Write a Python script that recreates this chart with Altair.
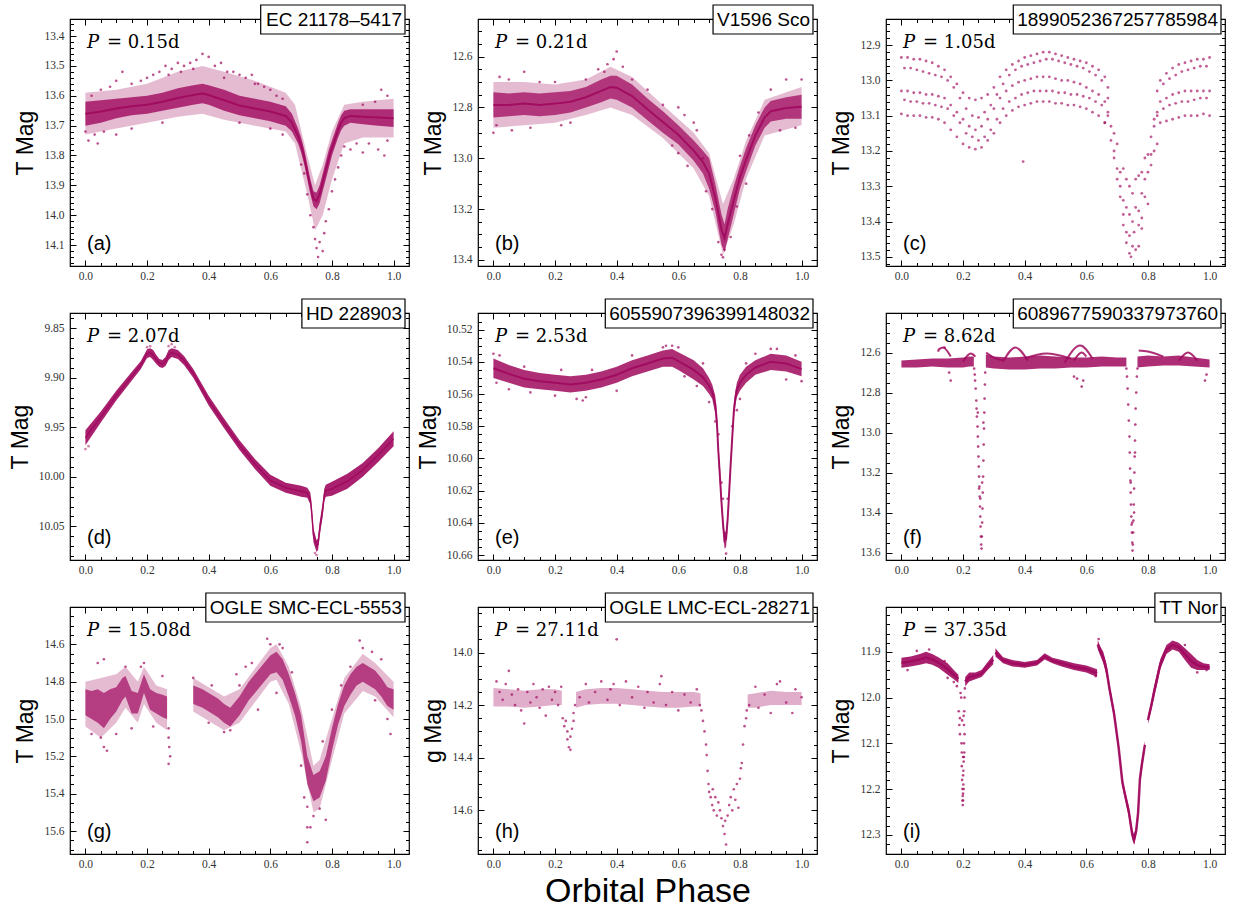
import altair as alt
import numpy as np
import pandas as pd

W, H = 339, 247
COLOR = "#A0095E"
SANS = "Liberation Sans"
SERIF = "Liberation Serif"
MATH = "DejaVu Serif"

X_DOMAIN = [-0.05, 1.05]
X_MAJOR = [0.0, 0.2, 0.4, 0.6, 0.8, 1.0]
X_MINOR_STEP = 0.05
X_TITLE = "Orbital Phase"

NAMES = ["EC 21178\u20135417", "V1596 Sco", "1899052367257785984", "HD 228903",
         "6055907396399148032", "6089677590337973760", "OGLE SMC-ECL-5553",
         "OGLE LMC-ECL-28271", "TT Nor"]
PERIODS = ["0.15", "0.21", "1.05", "2.07", "2.53", "8.62", "15.08", "27.11", "37.35"]
LETTERS = ["(a)", "(b)", "(c)", "(d)", "(e)", "(f)", "(g)", "(h)", "(i)"]
YTITLES = ["T Mag", "T Mag", "T Mag", "T Mag", "T Mag", "T Mag", "T Mag", "g Mag", "T Mag"]
Y_DOMAINS = [[13.343, 14.17], [12.452, 13.424], [12.826, 13.526], [9.8345, 10.084],
             [10.5097, 10.663], [12.402, 13.637], [14.40, 15.723], [13.827, 14.766],
             [11.802, 12.342]]
Y_MAJORS = [
    [13.4, 13.5, 13.6, 13.7, 13.8, 13.9, 14.0, 14.1],
    [12.6, 12.8, 13.0, 13.2, 13.4],
    [12.9, 13.0, 13.1, 13.2, 13.3, 13.4, 13.5],
    [9.85, 9.90, 9.95, 10.00, 10.05],
    [10.52, 10.54, 10.56, 10.58, 10.60, 10.62, 10.64, 10.66],
    [12.6, 12.8, 13.0, 13.2, 13.4, 13.6],
    [14.6, 14.8, 15.0, 15.2, 15.4, 15.6],
    [14.0, 14.2, 14.4, 14.6],
    [11.9, 12.0, 12.1, 12.2, 12.3],
]
Y_MINOR_STEPS = [0.02, 0.05, 0.02, 0.01, 0.005, 0.05, 0.05, 0.05, 0.02]
Y_FORMATS = [".1f", ".1f", ".1f", ".2f", ".2f", ".1f", ".1f", ".1f", ".1f"]

# ---------------- data ----------------
# bands: list of segments, each a list of (phase, upper mag, lower mag)
a_band = [[(0.0, 13.62, 13.70), (0.05, 13.615, 13.69), (0.1, 13.61, 13.675), (0.15, 13.605, 13.665),
           (0.2, 13.60, 13.66), (0.25, 13.59, 13.65), (0.3, 13.575, 13.64), (0.35, 13.565, 13.63),
           (0.38, 13.56, 13.625), (0.4, 13.565, 13.63), (0.45, 13.58, 13.65), (0.5, 13.60, 13.665),
           (0.55, 13.61, 13.675), (0.6, 13.62, 13.685), (0.65, 13.635, 13.70), (0.67, 13.66, 13.72),
           (0.69, 13.71, 13.76), (0.70, 13.74, 13.79), (0.71, 13.78, 13.83), (0.72, 13.83, 13.88),
           (0.73, 13.88, 13.93), (0.74, 13.92, 13.97), (0.75, 13.925, 13.98), (0.76, 13.90, 13.96),
           (0.77, 13.86, 13.92), (0.78, 13.82, 13.88), (0.79, 13.78, 13.84), (0.80, 13.75, 13.80),
           (0.81, 13.72, 13.77), (0.82, 13.69, 13.74), (0.83, 13.665, 13.715), (0.84, 13.65, 13.70),
           (0.86, 13.645, 13.69), (0.9, 13.645, 13.695), (0.95, 13.645, 13.70), (1.0, 13.645, 13.705)]]
a_halo = [[(0.0, 13.59, 13.73), (0.1, 13.58, 13.71), (0.2, 13.56, 13.69), (0.3, 13.52, 13.67),
           (0.38, 13.50, 13.66), (0.45, 13.52, 13.68), (0.55, 13.55, 13.70), (0.65, 13.59, 13.72),
           (0.68, 13.63, 13.76), (0.72, 13.80, 13.93), (0.745, 13.90, 14.05), (0.77, 13.83, 14.0),
           (0.8, 13.72, 13.88), (0.84, 13.63, 13.76), (0.9, 13.62, 13.74), (1.0, 13.61, 13.74)]]
a_pts = [(0.02, 13.60), (0.05, 13.58), (0.08, 13.57), (0.10, 13.55), (0.12, 13.52), (0.15, 13.56),
         (0.18, 13.55), (0.20, 13.54), (0.22, 13.53), (0.24, 13.52), (0.26, 13.50), (0.28, 13.51),
         (0.30, 13.49), (0.32, 13.50), (0.34, 13.49), (0.36, 13.48), (0.38, 13.46), (0.40, 13.47),
         (0.42, 13.50), (0.44, 13.49), (0.46, 13.52), (0.48, 13.52), (0.50, 13.53), (0.52, 13.54),
         (0.54, 13.53), (0.56, 13.56), (0.58, 13.57), (0.60, 13.58), (0.62, 13.60), (0.64, 13.61),
         (0.27, 13.53), (0.31, 13.52), (0.35, 13.51), (0.45, 13.54), (0.55, 13.56),
         (0.00, 13.72), (0.01, 13.75), (0.03, 13.73), (0.04, 13.76), (0.06, 13.72), (0.10, 13.73),
         (0.15, 13.71), (0.25, 13.69), (0.50, 13.69), (0.60, 13.71), (0.64, 13.73),
         (0.70, 13.83), (0.71, 13.86), (0.72, 13.93), (0.73, 14.00), (0.74, 14.04), (0.745, 14.08),
         (0.75, 14.11), (0.755, 14.14), (0.76, 14.09), (0.77, 14.12), (0.775, 14.06), (0.78, 14.02),
         (0.79, 13.98), (0.80, 13.92), (0.81, 13.88), (0.82, 13.84), (0.83, 13.80), (0.84, 13.77),
         (0.86, 13.78), (0.88, 13.76), (0.90, 13.79), (0.92, 13.76), (0.95, 13.78), (0.97, 13.80),
         (0.98, 13.75), (0.96, 13.58), (0.98, 13.60), (0.94, 13.62), (0.90, 13.63)]

b_band = [[(0.0, 12.74, 12.84), (0.05, 12.745, 12.835), (0.1, 12.74, 12.83), (0.15, 12.745, 12.835),
           (0.2, 12.74, 12.83), (0.25, 12.735, 12.82), (0.3, 12.72, 12.80), (0.35, 12.69, 12.78),
           (0.38, 12.675, 12.765), (0.4, 12.675, 12.77), (0.45, 12.71, 12.80), (0.5, 12.765, 12.85),
           (0.55, 12.815, 12.90), (0.6, 12.87, 12.945), (0.65, 12.93, 13.01), (0.68, 12.97, 13.06),
           (0.7, 13.0, 13.12), (0.72, 13.10, 13.21), (0.74, 13.22, 13.34), (0.75, 13.26, 13.37),
           (0.76, 13.20, 13.32), (0.78, 13.11, 13.22), (0.8, 13.03, 13.12), (0.82, 12.96, 13.05),
           (0.85, 12.87, 12.95), (0.88, 12.80, 12.88), (0.9, 12.775, 12.855), (0.95, 12.76, 12.845),
           (1.0, 12.75, 12.845)]]
b_halo = [[(0.0, 12.70, 12.88), (0.1, 12.70, 12.87), (0.2, 12.71, 12.86), (0.3, 12.69, 12.83),
           (0.38, 12.64, 12.80), (0.45, 12.68, 12.83), (0.55, 12.79, 12.92), (0.65, 12.90, 13.04),
           (0.7, 12.98, 13.15), (0.745, 13.18, 13.38), (0.78, 13.08, 13.26), (0.82, 12.93, 13.08),
           (0.88, 12.77, 12.91), (1.0, 12.72, 12.87)]]
b_pts = [(0.39, 12.61), (0.40, 12.58), (0.37, 12.63), (0.42, 12.64), (0.34, 12.65), (0.36, 12.66),
         (0.0, 12.90), (0.01, 12.87), (0.02, 12.68), (0.05, 12.69), (0.1, 12.66), (0.15, 12.70),
         (0.2, 12.70), (0.25, 12.86), (0.22, 12.87), (0.3, 12.69), (0.12, 12.88), (0.06, 12.89),
         (0.74, 13.38), (0.745, 13.39), (0.75, 13.36), (0.73, 13.33), (0.77, 13.31), (0.71, 13.20),
         (0.69, 13.13), (0.9, 12.73), (0.95, 12.69), (1.0, 12.69), (0.98, 12.88), (0.93, 12.89),
         (0.6, 12.80), (0.62, 12.83), (0.65, 12.86), (0.66, 12.89), (0.55, 12.79), (0.5, 12.73),
         (0.45, 12.69), (0.68, 13.0), (0.8, 12.99), (0.83, 12.91), (0.86, 12.82), (0.79, 13.19),
         (0.82, 13.1), (0.6, 12.98), (0.63, 13.03), (0.58, 12.95)]

# panel (c): five tracks of dots plus the eclipse
c_ph_a = [0.00, 0.02, 0.04, 0.06, 0.08, 0.10, 0.12, 0.14, 0.16, 0.18, 0.20, 0.22, 0.24, 0.26, 0.28,
          0.30, 0.32, 0.34, 0.36, 0.38, 0.40, 0.42, 0.44, 0.46, 0.48, 0.50, 0.52, 0.54, 0.56, 0.58,
          0.60, 0.62, 0.64, 0.66, 0.84, 0.86, 0.88, 0.90, 0.92, 0.94, 0.96, 0.98, 1.00]
c_ph_b = [0.01, 0.03, 0.05, 0.07, 0.09, 0.11, 0.13, 0.15, 0.17, 0.19, 0.21, 0.23, 0.25, 0.27, 0.29,
          0.31, 0.33, 0.35, 0.37, 0.39, 0.41, 0.43, 0.45, 0.47, 0.49, 0.51, 0.53, 0.55, 0.57, 0.59,
          0.61, 0.63, 0.65, 0.67, 0.83, 0.85, 0.87, 0.89, 0.91, 0.93, 0.95, 0.97, 0.99]
c_t1 = [12.935, 12.935, 12.94, 12.94, 12.945, 12.95, 12.96, 12.97, 12.99, 13.01,
        13.035, 13.05, 13.055, 13.05, 13.04, 13.02, 12.99, 12.97, 12.955, 12.945,
        12.935, 12.93, 12.925, 12.92, 12.92, 12.925, 12.93, 12.935, 12.94, 12.945,
        12.95, 12.96, 12.97, 12.99, 13.0, 12.98, 12.965, 12.955, 12.95, 12.945, 12.94, 12.94, 12.935]
c_t2 = [12.965, 12.965, 12.97, 12.975, 12.98, 12.985, 12.99, 13.0, 13.02, 13.05,
        13.08, 13.10, 13.105, 13.09, 13.07, 13.04, 13.01, 12.985, 12.97, 12.96,
        12.955, 12.95, 12.945, 12.94, 12.94, 12.945, 12.95, 12.955, 12.96, 12.965,
        12.975, 12.985, 13.0, 13.02, 13.03, 13.01, 12.995, 12.985, 12.975, 12.97, 12.965, 12.96, 12.96]
c_t3 = [13.03, 13.03, 13.035, 13.035, 13.04, 13.04, 13.045, 13.05, 13.07, 13.09,
        13.11, 13.13, 13.14, 13.13, 13.11, 13.08, 13.05, 13.03, 13.015, 13.005,
        13.0, 12.995, 12.99, 12.99, 12.99, 12.995, 13.0, 13.0, 13.005, 13.01,
        13.02, 13.03, 13.04, 13.06, 13.06, 13.05, 13.04, 13.035, 13.03, 13.03, 13.03, 13.03, 13.03]
c_t4 = [13.055, 13.06, 13.06, 13.065, 13.065, 13.07, 13.075, 13.08, 13.10, 13.12,
        13.15, 13.16, 13.17, 13.16, 13.14, 13.11, 13.08, 13.06, 13.05, 13.04,
        13.035, 13.03, 13.03, 13.03, 13.03, 13.035, 13.035, 13.04, 13.04, 13.045,
        13.05, 13.06, 13.07, 13.09, 13.09, 13.08, 13.07, 13.065, 13.06, 13.06, 13.055, 13.05, 13.05]
c_t5 = [13.095, 13.10, 13.10, 13.10, 13.105, 13.105, 13.11, 13.12, 13.14, 13.16,
        13.18, 13.19, 13.195, 13.19, 13.17, 13.15, 13.12, 13.10, 13.085, 13.075,
        13.07, 13.065, 13.06, 13.06, 13.06, 13.065, 13.065, 13.07, 13.07, 13.075,
        13.08, 13.09, 13.10, 13.12, 13.12, 13.115, 13.11, 13.105, 13.10, 13.10, 13.10, 13.095, 13.10]
c_ecl = [(0.66, 13.12), (0.67, 13.10), (0.67, 13.05), (0.68, 13.13), (0.68, 13.17), (0.69, 13.15),
         (0.69, 13.20), (0.69, 13.22), (0.70, 13.18), (0.70, 13.25), (0.70, 13.28), (0.71, 13.26),
         (0.71, 13.30), (0.71, 13.33), (0.72, 13.25), (0.72, 13.34), (0.72, 13.38), (0.72, 13.41),
         (0.73, 13.28), (0.73, 13.36), (0.73, 13.43), (0.73, 13.46), (0.74, 13.30), (0.74, 13.38),
         (0.74, 13.44), (0.74, 13.49), (0.745, 13.50), (0.75, 13.32), (0.75, 13.40), (0.75, 13.47),
         (0.755, 13.43), (0.76, 13.28), (0.76, 13.36), (0.76, 13.48), (0.77, 13.27), (0.77, 13.37),
         (0.77, 13.41), (0.77, 13.47), (0.78, 13.26), (0.78, 13.32), (0.78, 13.39), (0.78, 13.42),
         (0.79, 13.22), (0.79, 13.28), (0.79, 13.33), (0.80, 13.21), (0.80, 13.26), (0.80, 13.35),
         (0.81, 13.16), (0.81, 13.21), (0.81, 13.24), (0.82, 13.13), (0.82, 13.20), (0.82, 13.11),
         (0.83, 13.10), (0.83, 13.18), (0.395, 13.23)]

d_band = [[(0.0, 9.953, 9.968), (0.05, 9.934, 9.945), (0.1, 9.913, 9.923), (0.15, 9.894, 9.903),
           (0.18, 9.883, 9.891), (0.2, 9.871, 9.880), (0.21, 9.870, 9.879), (0.22, 9.872, 9.882),
           (0.23, 9.877, 9.886), (0.24, 9.881, 9.889), (0.25, 9.882, 9.890), (0.26, 9.879, 9.888),
           (0.27, 9.872, 9.882), (0.28, 9.870, 9.879), (0.3, 9.872, 9.881), (0.32, 9.878, 9.887),
           (0.35, 9.891, 9.900), (0.4, 9.918, 9.928), (0.45, 9.941, 9.951), (0.5, 9.963, 9.973),
           (0.55, 9.982, 9.992), (0.6, 9.998, 10.009), (0.65, 10.006, 10.016), (0.7, 10.009, 10.020),
           (0.72, 10.011, 10.021), (0.73, 10.016, 10.028), (0.735, 10.032, 10.045),
           (0.74, 10.052, 10.066), (0.75, 10.064, 10.076), (0.755, 10.062, 10.074),
           (0.76, 10.046, 10.06), (0.77, 10.026, 10.04), (0.775, 10.012, 10.025),
           (0.78, 10.008, 10.02), (0.8, 10.005, 10.019), (0.85, 9.997, 10.012), (0.9, 9.986, 10.0),
           (0.95, 9.971, 9.985), (1.0, 9.954, 9.969)]]
d_pts = [(0.21, 9.868), (0.2, 9.869), (0.28, 9.866), (0.27, 9.868), (0.29, 9.869), (0.75, 10.079),
         (0.745, 10.077), (0.0, 9.972), (0.01, 9.969)]

e_band = [[(0.0, 10.538, 10.550), (0.05, 10.542, 10.553), (0.1, 10.545, 10.556), (0.15, 10.547, 10.557),
           (0.2, 10.548, 10.558), (0.25, 10.549, 10.559), (0.3, 10.548, 10.558), (0.35, 10.546, 10.556),
           (0.4, 10.543, 10.553), (0.45, 10.539, 10.549), (0.5, 10.536, 10.546), (0.55, 10.533, 10.543),
           (0.58, 10.532, 10.543), (0.6, 10.534, 10.545), (0.65, 10.539, 10.551), (0.68, 10.544, 10.555),
           (0.7, 10.550, 10.560), (0.71, 10.554, 10.563), (0.72, 10.561, 10.572), (0.725, 10.572, 10.582),
           (0.73, 10.590, 10.602), (0.735, 10.605, 10.617), (0.74, 10.622, 10.632),
           (0.745, 10.636, 10.645), (0.75, 10.646, 10.656), (0.755, 10.645, 10.655),
           (0.76, 10.633, 10.643), (0.765, 10.616, 10.626), (0.77, 10.598, 10.608),
           (0.775, 10.582, 10.592), (0.78, 10.566, 10.576), (0.785, 10.558, 10.567),
           (0.79, 10.553, 10.562), (0.8, 10.548, 10.558), (0.82, 10.543, 10.553),
           (0.85, 10.539, 10.548), (0.9, 10.535, 10.545), (0.95, 10.536, 10.546), (1.0, 10.540, 10.549)]]
e_pts = [(0.0, 10.535), (0.02, 10.536), (0.01, 10.553), (0.05, 10.557), (0.1, 10.543), (0.12, 10.559),
         (0.2, 10.561), (0.22, 10.545), (0.27, 10.563), (0.29, 10.564), (0.3, 10.562), (0.32, 10.545),
         (0.4, 10.558), (0.45, 10.536), (0.55, 10.531), (0.56, 10.530), (0.58, 10.530), (0.6, 10.531),
         (0.62, 10.549), (0.66, 10.555), (0.68, 10.541), (0.7, 10.565), (0.72, 10.577), (0.73, 10.585),
         (0.74, 10.615), (0.745, 10.625), (0.76, 10.625), (0.775, 10.58), (0.79, 10.57), (0.8, 10.563),
         (0.82, 10.541), (0.85, 10.535), (0.9, 10.532), (0.92, 10.532), (0.95, 10.551), (0.98, 10.536),
         (1.0, 10.552), (0.755, 10.659)]

f_band = [[(0.0, 12.64, 12.675), (0.05, 12.635, 12.675), (0.1, 12.63, 12.67), (0.15, 12.63, 12.675),
           (0.2, 12.625, 12.675), (0.22, 12.62, 12.67), (0.235, 12.62, 12.67)],
          [(0.274, 12.61, 12.675), (0.3, 12.62, 12.68), (0.35, 12.625, 12.685), (0.4, 12.62, 12.685),
           (0.45, 12.615, 12.68), (0.5, 12.62, 12.68), (0.55, 12.625, 12.675), (0.6, 12.625, 12.675),
           (0.65, 12.62, 12.67), (0.7, 12.625, 12.67), (0.73, 12.625, 12.67)],
          [(0.766, 12.62, 12.675), (0.8, 12.615, 12.67), (0.85, 12.62, 12.665), (0.9, 12.615, 12.665),
           (0.95, 12.625, 12.67), (1.0, 12.635, 12.675)]]
f_tracks = [(1, 0.20, 12.645), (1, 0.225, 12.605), (1, 0.24, 12.62),
            (2, 0.275, 12.60), (2, 0.30, 12.625), (2, 0.33, 12.64),
            (3, 0.33, 12.645), (3, 0.37, 12.575), (3, 0.41, 12.64),
            (4, 0.53, 12.65), (4, 0.58, 12.565), (4, 0.62, 12.63),
            (5, 0.56, 12.64), (5, 0.585, 12.60), (5, 0.60, 12.62),
            (6, 0.77, 12.59), (6, 0.80, 12.595), (6, 0.85, 12.62),
            (7, 0.90, 12.64), (7, 0.93, 12.60), (7, 0.96, 12.64),
            (8, 0.40, 12.63), (8, 0.47, 12.605), (8, 0.55, 12.63),
            (9, 0.12, 12.585), (9, 0.135, 12.575), (9, 0.16, 12.62)]
f_pts = [(0.236, 12.68), (0.238, 12.71), (0.239, 12.74), (0.241, 12.78), (0.243, 12.84), (0.244, 12.88),
         (0.245, 12.92), (0.247, 12.97), (0.248, 13.02), (0.249, 13.07), (0.25, 13.12), (0.251, 13.17),
         (0.252, 13.22), (0.253, 13.27), (0.254, 13.32), (0.255, 13.37), (0.256, 13.42), (0.257, 13.47),
         (0.258, 13.52), (0.259, 13.56), (0.26, 13.58), (0.261, 13.52), (0.262, 13.45), (0.263, 13.38),
         (0.264, 13.3), (0.265, 13.22), (0.266, 13.14), (0.267, 13.06), (0.268, 12.98), (0.269, 12.9),
         (0.27, 12.83), (0.271, 12.76), (0.272, 12.7), (0.252, 13.28), (0.256, 13.33), (0.262, 13.25),
         (0.266, 12.95), (0.248, 12.9),
         (0.73, 12.68), (0.732, 12.72), (0.734, 12.78), (0.736, 12.86), (0.738, 12.94), (0.74, 13.02),
         (0.741, 13.1), (0.742, 13.18), (0.743, 13.24), (0.744, 13.3), (0.745, 13.36), (0.746, 13.42),
         (0.747, 13.46), (0.748, 13.5), (0.749, 13.55), (0.75, 13.59), (0.751, 13.56), (0.752, 13.5),
         (0.753, 13.44), (0.754, 13.36), (0.755, 13.28), (0.756, 13.2), (0.757, 13.12), (0.758, 13.04),
         (0.759, 12.96), (0.76, 12.88), (0.762, 12.8), (0.764, 12.72), (0.766, 12.68), (0.744, 13.25),
         (0.749, 13.45), (0.755, 13.4), (0.758, 13.1),
         (0.155, 12.70), (0.16, 12.74), (0.56, 12.72), (0.57, 12.73), (0.585, 12.77), (0.59, 12.74),
         (0.985, 12.74), (0.99, 12.71), (0.12, 12.59), (0.14, 12.575)]

g_band = [[(0.0, 14.84, 14.98), (0.02, 14.85, 15.0), (0.04, 14.84, 15.02), (0.06, 14.86, 15.05),
           (0.08, 14.84, 15.0), (0.1, 14.83, 14.96), (0.12, 14.78, 14.9), (0.13, 14.77, 14.88),
           (0.15, 14.85, 14.97), (0.17, 14.86, 14.97), (0.19, 14.76, 14.86), (0.21, 14.84, 14.95),
           (0.23, 14.86, 14.97), (0.25, 14.87, 14.99), (0.265, 14.88, 15.0)],
          [(0.35, 14.82, 14.92), (0.38, 14.84, 14.94), (0.4, 14.86, 14.96), (0.43, 14.89, 14.99),
           (0.45, 14.92, 15.02), (0.47, 14.94, 15.04), (0.5, 14.88, 14.98), (0.53, 14.8, 14.9),
           (0.55, 14.76, 14.86), (0.58, 14.7, 14.8), (0.6, 14.66, 14.76), (0.62, 14.64, 14.75),
           (0.64, 14.68, 14.79), (0.66, 14.76, 14.88), (0.68, 14.86, 14.98), (0.7, 14.98, 15.12),
           (0.72, 15.2, 15.35), (0.74, 15.3, 15.44), (0.76, 15.28, 15.42), (0.78, 15.2, 15.33),
           (0.8, 15.05, 15.17), (0.82, 14.92, 15.03), (0.84, 14.82, 14.93), (0.86, 14.76, 14.87),
           (0.88, 14.72, 14.82), (0.9, 14.7, 14.8), (0.92, 14.72, 14.82), (0.94, 14.74, 14.84),
           (0.96, 14.78, 14.88), (0.98, 14.83, 14.93), (1.0, 14.84, 14.95)]]
g_halo = [[(0.0, 14.80, 15.04), (0.05, 14.78, 15.1), (0.1, 14.76, 15.02), (0.13, 14.72, 14.94),
           (0.17, 14.80, 15.02), (0.19, 14.72, 14.92), (0.23, 14.82, 15.02), (0.265, 14.84, 15.06)],
          [(0.35, 14.78, 14.96), (0.45, 14.88, 15.06), (0.5, 14.84, 15.02), (0.6, 14.62, 14.8),
           (0.62, 14.6, 14.79), (0.66, 14.72, 14.92), (0.7, 14.94, 15.18), (0.74, 15.25, 15.5),
           (0.76, 15.22, 15.48), (0.8, 15.0, 15.22), (0.84, 14.78, 14.97), (0.9, 14.65, 14.85),
           (0.94, 14.70, 14.88), (1.0, 14.8, 14.99)]]
g_pts = [(0.06, 15.15), (0.05, 15.1), (0.07, 15.17), (0.02, 15.08), (0.04, 14.70), (0.06, 14.68),
         (0.1, 15.08), (0.13, 14.72), (0.15, 15.05), (0.18, 14.72), (0.19, 14.70), (0.22, 15.04),
         (0.25, 14.77), (0.27, 15.05), (0.27, 15.1), (0.272, 15.15), (0.275, 15.2), (0.27, 15.24),
         (0.35, 14.78), (0.41, 14.82), (0.45, 15.07), (0.47, 15.06), (0.49, 14.76), (0.5, 14.82),
         (0.52, 14.72), (0.54, 14.70), (0.59, 14.57), (0.6, 14.6), (0.63, 14.6), (0.64, 14.62),
         (0.7, 15.25), (0.71, 15.42), (0.72, 15.47), (0.72, 15.58), (0.73, 15.58), (0.72, 15.66),
         (0.74, 15.52), (0.76, 15.48), (0.78, 15.54), (0.77, 15.12), (0.8, 14.95), (0.83, 14.82),
         (0.86, 14.72), (0.89, 14.58), (0.9, 14.62), (0.93, 14.64), (0.96, 14.68), (0.99, 15.08),
         (0.98, 15.0), (0.94, 14.9), (0.67, 14.75), (0.56, 14.95), (0.62, 14.86), (0.4, 15.02)]

h_band = [[(0.0, 14.135, 14.205), (0.05, 14.14, 14.205), (0.1, 14.145, 14.21), (0.15, 14.14, 14.205),
           (0.2, 14.14, 14.2), (0.222, 14.145, 14.2)],
          [(0.268, 14.15, 14.21), (0.3, 14.14, 14.2), (0.35, 14.135, 14.195), (0.4, 14.135, 14.195),
           (0.45, 14.14, 14.2), (0.5, 14.145, 14.205), (0.55, 14.15, 14.21), (0.6, 14.15, 14.21),
           (0.65, 14.15, 14.205), (0.672, 14.155, 14.205)],
          [(0.825, 14.16, 14.21), (0.85, 14.155, 14.21), (0.9, 14.145, 14.2), (0.95, 14.15, 14.2),
           (1.0, 14.15, 14.2)]]
h_pts = [(0.01, 14.11), (0.02, 14.15), (0.03, 14.18), (0.04, 14.12), (0.05, 14.07), (0.06, 14.16),
         (0.07, 14.20), (0.08, 14.14), (0.09, 14.22), (0.10, 14.27), (0.11, 14.15), (0.12, 14.19),
         (0.13, 14.12), (0.14, 14.17), (0.15, 14.21), (0.16, 14.14), (0.17, 14.24), (0.18, 14.13),
         (0.19, 14.18), (0.2, 14.15), (0.21, 14.20), (0.22, 14.13),
         (0.225, 14.25), (0.23, 14.28), (0.235, 14.26), (0.24, 14.30), (0.24, 14.33), (0.245, 14.36),
         (0.25, 14.37), (0.25, 14.32), (0.255, 14.29), (0.26, 14.26), (0.26, 14.23), (0.265, 14.20),
         (0.28, 14.17), (0.3, 14.12), (0.31, 14.19), (0.33, 14.15), (0.35, 14.11), (0.37, 14.18),
         (0.38, 14.14), (0.39, 14.12), (0.40, 13.95), (0.41, 14.2), (0.43, 14.11), (0.45, 14.17),
         (0.47, 14.13), (0.49, 14.21), (0.5, 14.15), (0.52, 14.19), (0.54, 14.12), (0.545, 14.09),
         (0.56, 14.2), (0.58, 14.15), (0.6, 14.22), (0.62, 14.16), (0.64, 14.19), (0.66, 14.14),
         (0.67, 14.2),
         (0.675, 14.22), (0.68, 14.26), (0.685, 14.3), (0.69, 14.35), (0.692, 14.39), (0.695, 14.45),
         (0.698, 14.5), (0.7, 14.53), (0.705, 14.55), (0.71, 14.58), (0.712, 14.52), (0.715, 14.6),
         (0.72, 14.55), (0.725, 14.62), (0.73, 14.57), (0.735, 14.6), (0.74, 14.63), (0.745, 14.66),
         (0.75, 14.69), (0.752, 14.64), (0.755, 14.73), (0.76, 14.62), (0.765, 14.58), (0.77, 14.55),
         (0.775, 14.6), (0.78, 14.52), (0.785, 14.56), (0.79, 14.5), (0.795, 14.59), (0.8, 14.48),
         (0.803, 14.44), (0.806, 14.42), (0.81, 14.35), (0.815, 14.28), (0.82, 14.25), (0.822, 14.22),
         (0.83, 14.2), (0.85, 14.13), (0.86, 14.21), (0.88, 14.16), (0.9, 14.23), (0.92, 14.12),
         (0.93, 14.11), (0.95, 14.19), (0.97, 14.23), (0.98, 14.14), (1.0, 14.17)]

i_band = [[(0.0, 11.913, 11.935), (0.03, 11.91, 11.932), (0.06, 11.905, 11.928), (0.08, 11.9, 11.925),
           (0.1, 11.905, 11.928), (0.12, 11.912, 11.935), (0.15, 11.925, 11.95), (0.17, 11.94, 11.96),
           (0.185, 11.95, 11.968)],
          [(0.207, 11.955, 11.975), (0.22, 11.945, 11.965), (0.24, 11.945, 11.96), (0.26, 11.94, 11.955),
           (0.28, 11.922, 11.94), (0.298, 11.907, 11.927)],
          [(0.305, 11.892, 11.91), (0.33, 11.912, 11.925), (0.36, 11.918, 11.932), (0.4, 11.922, 11.935),
           (0.44, 11.918, 11.93), (0.465, 11.903, 11.917), (0.49, 11.913, 11.925), (0.52, 11.918, 11.932),
           (0.56, 11.925, 11.94), (0.6, 11.93, 11.945), (0.635, 11.938, 11.955)],
          [(0.637, 11.874, 11.894), (0.645, 11.888, 11.908), (0.655, 11.900, 11.925), (0.665, 11.925, 11.95),
           (0.675, 11.97, 11.99), (0.69, 12.025, 12.045), (0.705, 12.10, 12.12), (0.717, 12.175, 12.195),
           (0.727, 12.208, 12.226), (0.738, 12.238, 12.262), (0.749, 12.288, 12.31), (0.755, 12.30, 12.322),
           (0.762, 12.28, 12.30), (0.768, 12.235, 12.27), (0.774, 12.165, 12.19), (0.78, 12.135, 12.16),
           (0.79, 12.095, 12.112)],
          [(0.80, 12.04, 12.058), (0.81, 12.01, 12.03), (0.82, 11.975, 12.0), (0.83, 11.945, 11.97),
           (0.84, 11.916, 11.938), (0.86, 11.885, 11.905), (0.88, 11.875, 11.895), (0.9, 11.88, 11.9),
           (0.92, 11.892, 11.918), (0.94, 11.905, 11.935), (0.96, 11.918, 11.94), (0.98, 11.925, 11.94),
           (1.0, 11.927, 11.94)]]
i_pts = [(0.186, 12.03), (0.188, 12.06), (0.19, 12.08), (0.19, 12.045), (0.192, 11.99), (0.194, 12.0),
         (0.196, 12.12), (0.197, 12.18), (0.198, 12.2), (0.198, 12.225), (0.199, 12.235), (0.2, 12.21),
         (0.2, 12.17), (0.201, 12.19), (0.202, 12.14), (0.203, 12.1), (0.203, 12.06), (0.204, 12.03),
         (0.205, 12.0), (0.206, 11.98), (0.205, 12.08), (0.204, 12.12), (0.202, 12.2), (0.199, 12.215),
         (0.196, 12.15), (0.195, 12.1), (0.2, 12.225), (0.201, 12.16), (0.203, 12.13), (0.197, 12.05),
         (0.2, 12.13), (0.202, 12.04),
         (0.02, 11.94), (0.05, 11.898), (0.09, 11.895), (0.15, 11.957), (0.17, 11.966), (0.18, 11.975),
         (0.14, 11.92), (0.63, 11.953), (0.64, 11.872), (0.92, 11.885), (0.96, 11.945), (0.99, 11.94)]

c_pts = ([(p, m) for p, m in zip(c_ph_a, c_t1)] + [(p, m) for p, m in zip(c_ph_b, c_t2)] +
         [(p, m) for p, m in zip(c_ph_a, c_t3)] + [(p, m) for p, m in zip(c_ph_b, c_t4)] +
         [(p, m) for p, m in zip(c_ph_a, c_t5)] + c_ecl)

# per panel: band, band opacity, centre-line width, halo band, points, point opacity, point size, tracks
SPECS = [
    (a_band, 0.8, 2.0, a_halo, a_pts, 0.7, 7, None),
    (b_band, 0.75, 2.0, b_halo, b_pts, 0.7, 7, None),
    (None, 0, 0, None, c_pts, 0.65, 8, None),
    (d_band, 0.9, 1.5, None, d_pts, 0.5, 7, None),
    (e_band, 0.85, 2.0, None, e_pts, 0.7, 7, None),
    (f_band, 0.85, 0, None, f_pts, 0.75, 7, f_tracks),
    (g_band, 0.7, 0, g_halo, g_pts, 0.7, 7, None),
    (h_band, 0.33, 0, None, h_pts, 0.7, 7, None),
    (i_band, 0.9, 2.5, None, i_pts, 0.75, 7, None),
]

# ------------- helpers -------------
ARIAL = {" ": 0.278, "\u2013": 0.556, "-": 0.333, "E": 0.667, "C": 0.722, "V": 0.667, "S": 0.667,
         "c": 0.5, "o": 0.556, "H": 0.722, "D": 0.722, "O": 0.778, "G": 0.778, "L": 0.556,
         "M": 0.833, "T": 0.611, "N": 0.722, "r": 0.333}


def text_width(s, size):
    return sum(0.556 if ch.isdigit() else ARIAL.get(ch, 0.6) for ch in s) * size


def minor_ticks(domain, step, majors):
    lo, hi = min(domain), max(domain)
    out = []
    for k in range(int(np.ceil(lo / step - 1e-6)), int(np.floor(hi / step + 1e-6)) + 1):
        v = round(k * step, 6)
        if v - lo < step * 0.3 or hi - v < step * 0.3:
            continue
        if any(abs(v - m) < step * 0.1 for m in majors):
            continue
        out.append(v)
    return out


def axis(orient, values, size, labels=False, fmt=None, title=None, big=False):
    kw = dict(orient=orient, values=values, tickSize=size, offset=-size, domain=False, grid=False,
              tickColor="black", tickWidth=1, labels=labels, title=title)
    if labels:
        kw.update(format=fmt, labelFont=SERIF, labelFontSize=11.5, labelColor="#333",
                  labelPadding=6 if orient == "left" else 4, labelFlush=False, labelOverlap=False)
    if title:
        kw.update(titleFont=SANS, titleFontSize=34 if big else 23, titleFontWeight="normal",
                  titleColor="black", titlePadding=5 if big else 6)
    return alt.Axis(**kw)


def band_layers(band, opacity, xs, ys):
    rows = [(s, p, hi, lo) for s, seg in enumerate(band) for (p, hi, lo) in seg]
    bdf = pd.DataFrame(rows, columns=["seg", "phase", "hi", "lo"])
    area = alt.Chart(bdf).mark_area(color=COLOR, opacity=opacity).encode(
        x=alt.X("phase:Q", scale=xs, axis=None),
        y=alt.Y("hi:Q", scale=ys, axis=None, stack=False),
        y2="lo:Q", detail="seg:N")
    return bdf, area


def build_panel(i):
    band, band_op, centre_w, halo, pts, pt_op, pt_size, tracks = SPECS[i]
    xs = alt.Scale(domain=X_DOMAIN, nice=False, zero=False)
    ys = alt.Scale(domain=Y_DOMAINS[i], reverse=True, nice=False, zero=False)
    layers = []
    if halo:
        layers.append(band_layers(halo, 0.28, xs, ys)[1])
    if band:
        bdf, area = band_layers(band, band_op, xs, ys)
        layers.append(area)
        if centre_w:
            layers.append(alt.Chart(bdf).transform_calculate(mid="(datum.hi + datum.lo) / 2")
                          .mark_line(color=COLOR, strokeWidth=centre_w, opacity=0.9).encode(
                x=alt.X("phase:Q", scale=xs, axis=None),
                y=alt.Y("mid:Q", scale=ys, axis=None), detail="seg:N"))
    if tracks:
        tdf = pd.DataFrame(tracks, columns=["tid", "phase", "mag"])
        layers.append(alt.Chart(tdf).mark_line(color=COLOR, strokeWidth=2, opacity=0.85,
                                               interpolate="monotone").encode(
            x=alt.X("phase:Q", scale=xs, axis=None),
            y=alt.Y("mag:Q", scale=ys, axis=None), detail="tid:N"))
    pdf = pd.DataFrame(pts, columns=["phase", "mag"])
    layers.append(alt.Chart(pdf).mark_circle(color=COLOR, opacity=pt_op, size=pt_size).encode(
        x=alt.X("phase:Q", scale=xs, axis=None), y=alt.Y("mag:Q", scale=ys, axis=None)))

    xmin = minor_ticks(X_DOMAIN, X_MINOR_STEP, X_MAJOR)
    ymin = minor_ticks(Y_DOMAINS[i], Y_MINOR_STEPS[i], Y_MAJORS[i])
    xtitle = X_TITLE if i == 7 else None
    anchor = alt.Chart(pdf).transform_aggregate(phase="mean(phase)", mag="mean(mag)").mark_point(opacity=0)
    layers.append(anchor.encode(
        x=alt.X("phase:Q", scale=xs, axis=axis("bottom", X_MAJOR, 6, True, ".1f", xtitle, big=True)),
        y=alt.Y("mag:Q", scale=ys, axis=axis("left", Y_MAJORS[i], 6, True, Y_FORMATS[i], YTITLES[i]))))
    layers.append(anchor.encode(
        x=alt.X("phase:Q", scale=xs, axis=axis("top", X_MAJOR, 6)),
        y=alt.Y("mag:Q", scale=ys, axis=axis("right", Y_MAJORS[i], 6))))
    layers.append(anchor.encode(
        x=alt.X("phase:Q", scale=xs, axis=axis("bottom", xmin, 3.5)),
        y=alt.Y("mag:Q", scale=ys, axis=axis("left", ymin, 3.5))))
    layers.append(anchor.encode(
        x=alt.X("phase:Q", scale=xs, axis=axis("top", xmin, 3.5)),
        y=alt.Y("mag:Q", scale=ys, axis=axis("right", ymin, 3.5))))

    tdf = pd.DataFrame({"name": [NAMES[i]], "p": ["P"], "per": ["= " + PERIODS[i] + "d"],
                        "letter": [LETTERS[i]]})
    tw = text_width(NAMES[i], 19)
    layers.append(alt.Chart(tdf).mark_rect(fill="white", stroke="black", strokeWidth=1.2).encode(
        x=alt.value(W - 11 - tw), x2=alt.value(W - 4), y=alt.value(-14), y2=alt.value(15)))
    layers.append(alt.Chart(tdf).mark_text(font=SANS, fontSize=19, align="right", baseline="alphabetic",
                                           color="black").encode(
        text="name:N", x=alt.value(W - 7), y=alt.value(6.5)))
    layers.append(alt.Chart(tdf).mark_text(font=MATH, fontSize=18, fontStyle="italic", align="left",
                                           baseline="alphabetic", color="black").encode(
        text="p:N", x=alt.value(17), y=alt.value(29)))
    layers.append(alt.Chart(tdf).mark_text(font=MATH, fontSize=18, align="left",
                                           baseline="alphabetic", color="black").encode(
        text="per:N", x=alt.value(37), y=alt.value(29)))
    layers.append(alt.Chart(tdf).mark_text(font=SANS, fontSize=20, align="left",
                                           baseline="alphabetic", color="black").encode(
        text="letter:N", x=alt.value(17), y=alt.value(H - 16)))
    return alt.layer(*layers).resolve_axis(x="independent", y="independent").properties(width=W, height=H)


panels = [build_panel(i) for i in range(9)]
chart = alt.concat(*panels, columns=3, spacing={"row": 47, "column": 69}, bounds="flush").configure(
    padding={"left": 8, "top": 3, "right": 5, "bottom": 1}, background="white"
).configure_view(stroke="black", strokeWidth=1.2)

chart.save("out.html", embed_options={"renderer": "svg", "actions": False})
